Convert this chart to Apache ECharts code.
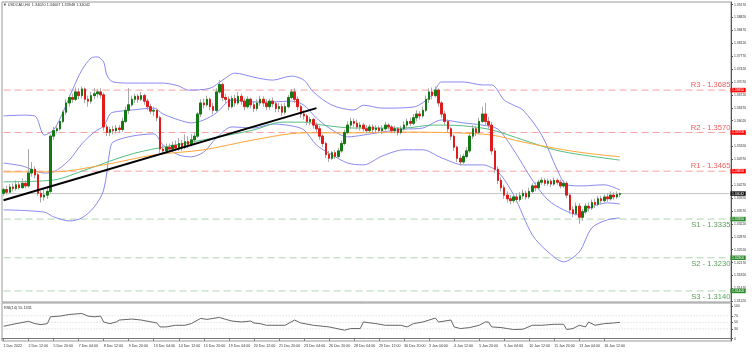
<!DOCTYPE html>
<html>
<head>
<meta charset="utf-8">
<script src="https://cdn.jsdelivr.net/npm/echarts@6/dist/echarts.min.js"></script>
<style>html,body{margin:0;padding:0;background:#fff}#chart{width:752px;height:352px}</style>
</head>
<body>
<div id="chart"></div>
<script>
// time labels, one every 8 H4 bars
var timeLabels = ['1 Dec 2022','2 Dec 12:00','5 Dec 20:00','7 Dec 04:00','8 Dec 12:00','9 Dec 20:00',
  '13 Dec 04:00','14 Dec 12:00','15 Dec 20:00','19 Dec 04:00','20 Dec 12:00','21 Dec 20:00','23 Dec 04:00',
  '26 Dec 20:00','28 Dec 04:00','29 Dec 12:00','30 Dec 20:00','3 Jan 04:00','4 Jan 12:00','5 Jan 20:00',
  '9 Jan 04:00','10 Jan 12:00','11 Jan 20:00','13 Jan 04:00','16 Jan 12:00'];
var slotCount = 233;

// [open, close, low, high]
var ohlc = [
[1.3405,1.3415,1.3398,1.3420],[1.3415,1.3408,1.3402,1.3425],[1.3408,1.3422,1.3405,1.3430],[1.3422,1.3418,1.3410,1.3432],
[1.3418,1.3428,1.3412,1.3440],[1.3428,1.3420,1.3415,1.3438],[1.3420,1.3432,1.3418,1.3445],[1.3432,1.3425,1.3418,1.3440],
[1.3425,1.3460,1.3420,1.3525],[1.3460,1.3470,1.3450,1.3490],[1.3470,1.3455,1.3445,1.3478],[1.3455,1.3405,1.3398,1.3460],
[1.3405,1.3395,1.3380,1.3412],[1.3395,1.3400,1.3385,1.3415],[1.3400,1.3410,1.3390,1.3420],[1.3410,1.3560,1.3405,1.3565],
[1.3560,1.3575,1.3550,1.3585],[1.3575,1.3580,1.3568,1.3590],[1.3580,1.3600,1.3575,1.3605],[1.3600,1.3625,1.3595,1.3630],
[1.3625,1.3650,1.3618,1.3660],[1.3650,1.3665,1.3640,1.3672],[1.3665,1.3660,1.3650,1.3675],[1.3660,1.3680,1.3655,1.3692],
[1.3680,1.3670,1.3660,1.3690],[1.3670,1.3688,1.3662,1.3695],[1.3688,1.3660,1.3650,1.3692],[1.3660,1.3655,1.3640,1.3670],
[1.3655,1.3670,1.3648,1.3680],[1.3670,1.3675,1.3660,1.3690],[1.3675,1.3680,1.3665,1.3688],[1.3680,1.3672,1.3662,1.3690],
[1.3672,1.3585,1.3575,1.3678],[1.3585,1.3570,1.3560,1.3592],[1.3570,1.3578,1.3560,1.3585],[1.3578,1.3575,1.3565,1.3588],
[1.3575,1.3582,1.3568,1.3590],[1.3582,1.3578,1.3568,1.3590],[1.3578,1.3600,1.3572,1.3610],[1.3600,1.3630,1.3595,1.3640],
[1.3630,1.3645,1.3620,1.3690],[1.3645,1.3660,1.3640,1.3670],[1.3660,1.3668,1.3650,1.3675],[1.3668,1.3660,1.3650,1.3675],
[1.3660,1.3670,1.3655,1.3680],[1.3670,1.3655,1.3645,1.3675],[1.3655,1.3640,1.3630,1.3662],[1.3640,1.3628,1.3620,1.3648],
[1.3628,1.3630,1.3615,1.3640],[1.3630,1.3610,1.3600,1.3635],[1.3610,1.3525,1.3515,1.3615],[1.3525,1.3520,1.3510,1.3535],
[1.3520,1.3530,1.3512,1.3540],[1.3530,1.3525,1.3515,1.3540],[1.3525,1.3535,1.3518,1.3545],[1.3535,1.3528,1.3520,1.3548],
[1.3528,1.3540,1.3520,1.3555],[1.3540,1.3530,1.3520,1.3550],[1.3530,1.3545,1.3525,1.3565],[1.3545,1.3538,1.3528,1.3560],
[1.3538,1.3550,1.3532,1.3565],[1.3550,1.3560,1.3540,1.3570],[1.3560,1.3620,1.3555,1.3625],[1.3620,1.3650,1.3612,1.3660],
[1.3650,1.3645,1.3635,1.3662],[1.3645,1.3660,1.3640,1.3670],[1.3660,1.3640,1.3630,1.3665],[1.3640,1.3630,1.3620,1.3650],
[1.3630,1.3680,1.3625,1.3690],[1.3680,1.3700,1.3675,1.3712],[1.3700,1.3665,1.3655,1.3705],[1.3665,1.3660,1.3650,1.3675],
[1.3660,1.3640,1.3630,1.3668],[1.3640,1.3662,1.3635,1.3670],[1.3662,1.3650,1.3640,1.3672],[1.3650,1.3668,1.3645,1.3680],
[1.3668,1.3655,1.3645,1.3675],[1.3655,1.3640,1.3630,1.3662],[1.3640,1.3660,1.3635,1.3668],[1.3660,1.3645,1.3635,1.3665],
[1.3645,1.3635,1.3625,1.3655],[1.3635,1.3650,1.3628,1.3660],[1.3650,1.3660,1.3642,1.3670],[1.3660,1.3650,1.3640,1.3668],
[1.3650,1.3640,1.3630,1.3660],[1.3640,1.3655,1.3632,1.3662],[1.3655,1.3648,1.3638,1.3665],[1.3648,1.3635,1.3625,1.3655],
[1.3635,1.3640,1.3625,1.3650],[1.3640,1.3625,1.3615,1.3648],[1.3625,1.3640,1.3618,1.3650],[1.3640,1.3665,1.3635,1.3672],
[1.3665,1.3680,1.3660,1.3688],[1.3680,1.3660,1.3650,1.3690],[1.3660,1.3640,1.3630,1.3668],[1.3640,1.3620,1.3610,1.3645],
[1.3620,1.3615,1.3605,1.3630],[1.3615,1.3600,1.3590,1.3620],[1.3600,1.3605,1.3590,1.3612],[1.3605,1.3590,1.3580,1.3610],
[1.3590,1.3580,1.3570,1.3598],[1.3580,1.3560,1.3550,1.3588],[1.3560,1.3540,1.3530,1.3565],[1.3540,1.3510,1.3500,1.3545],
[1.3510,1.3500,1.3490,1.3520],[1.3500,1.3515,1.3495,1.3520],[1.3515,1.3505,1.3498,1.3522],[1.3505,1.3520,1.3500,1.3528],
[1.3520,1.3540,1.3515,1.3548],[1.3540,1.3570,1.3535,1.3578],[1.3570,1.3590,1.3565,1.3600],[1.3590,1.3600,1.3580,1.3610],
[1.3600,1.3595,1.3585,1.3608],[1.3595,1.3585,1.3578,1.3605],[1.3585,1.3590,1.3575,1.3598],[1.3590,1.3580,1.3572,1.3595],
[1.3580,1.3575,1.3568,1.3590],[1.3575,1.3585,1.3570,1.3592],[1.3585,1.3578,1.3570,1.3592],[1.3578,1.3582,1.3570,1.3590],
[1.3582,1.3575,1.3568,1.3588],[1.3575,1.3580,1.3565,1.3590],[1.3580,1.3590,1.3575,1.3598],[1.3590,1.3585,1.3578,1.3595],
[1.3585,1.3575,1.3568,1.3590],[1.3575,1.3580,1.3568,1.3588],[1.3580,1.3570,1.3562,1.3585],[1.3570,1.3580,1.3565,1.3588],
[1.3580,1.3590,1.3575,1.3600],[1.3590,1.3600,1.3582,1.3608],[1.3600,1.3595,1.3588,1.3610],[1.3595,1.3610,1.3590,1.3620],
[1.3610,1.3620,1.3600,1.3630],[1.3620,1.3615,1.3605,1.3628],[1.3615,1.3630,1.3610,1.3640],[1.3630,1.3660,1.3625,1.3670],
[1.3660,1.3680,1.3650,1.3690],[1.3680,1.3670,1.3660,1.3692],[1.3670,1.3685,1.3665,1.3695],[1.3685,1.3650,1.3640,1.3690],
[1.3650,1.3620,1.3610,1.3655],[1.3620,1.3600,1.3590,1.3628],[1.3600,1.3580,1.3570,1.3605],[1.3580,1.3560,1.3550,1.3585],
[1.3560,1.3530,1.3520,1.3565],[1.3530,1.3500,1.3490,1.3535],[1.3500,1.3490,1.3480,1.3510],[1.3490,1.3505,1.3485,1.3512],
[1.3505,1.3520,1.3500,1.3530],[1.3520,1.3560,1.3515,1.3568],[1.3560,1.3580,1.3552,1.3590],[1.3580,1.3570,1.3560,1.3588],
[1.3570,1.3600,1.3565,1.3610],[1.3600,1.3620,1.3595,1.3640],[1.3620,1.3600,1.3590,1.3650],[1.3600,1.3590,1.3580,1.3612],
[1.3590,1.3520,1.3510,1.3598],[1.3520,1.3470,1.3460,1.3528],[1.3470,1.3440,1.3430,1.3478],[1.3440,1.3420,1.3410,1.3448],
[1.3420,1.3400,1.3390,1.3428],[1.3400,1.3390,1.3380,1.3410],[1.3390,1.3385,1.3375,1.3400],[1.3385,1.3395,1.3378,1.3402],
[1.3395,1.3388,1.3380,1.3405],[1.3388,1.3398,1.3382,1.3408],[1.3398,1.3405,1.3390,1.3415],[1.3405,1.3395,1.3388,1.3412],
[1.3395,1.3410,1.3390,1.3420],[1.3410,1.3425,1.3405,1.3432],[1.3425,1.3420,1.3410,1.3435],[1.3420,1.3435,1.3415,1.3442],
[1.3435,1.3440,1.3428,1.3448],[1.3440,1.3432,1.3425,1.3446],[1.3432,1.3438,1.3425,1.3445],[1.3438,1.3430,1.3422,1.3444],
[1.3430,1.3440,1.3425,1.3448],[1.3440,1.3435,1.3428,1.3446],[1.3435,1.3425,1.3418,1.3442],[1.3425,1.3432,1.3420,1.3440],
[1.3432,1.3400,1.3392,1.3438],[1.3400,1.3360,1.3350,1.3405],[1.3360,1.3350,1.3340,1.3370],[1.3350,1.3370,1.3345,1.3380],
[1.3370,1.3340,1.3322,1.3378],[1.3340,1.3355,1.3330,1.3362],[1.3355,1.3370,1.3348,1.3378],[1.3370,1.3365,1.3355,1.3380],
[1.3365,1.3380,1.3360,1.3388],[1.3380,1.3375,1.3365,1.3390],[1.3375,1.3390,1.3370,1.3398],[1.3390,1.3385,1.3375,1.3398],
[1.3385,1.3395,1.3380,1.3402],[1.3395,1.3390,1.3382,1.3405],[1.3390,1.3400,1.3385,1.3410],[1.3400,1.3395,1.3388,1.3408],
[1.3395,1.3402,1.3390,1.3410],[1.3402,1.3404,1.3395,1.3407]
];

// indicator lines: [bar index, value]
var bbUpper = [[0,1.3615],[6,1.3617],[10,1.3615],[13,1.3563],[16,1.3577],[19,1.3625],[22,1.3685],[25,1.3739],[28,1.3772],[30,1.3775],[32,1.3761],[33,1.3726],[35,1.3707],[41,1.3704],[51,1.3704],[56,1.3696],[59,1.3685],[66,1.3690],[70,1.3712],[74,1.3731],[80,1.3720],[86,1.3712],[92,1.3723],[96,1.3712],[99,1.3680],[105,1.3644],[112,1.3631],[115,1.3644],[121,1.3636],[131,1.3639],[137,1.3672],[140,1.3707],[147,1.3707],[153,1.3699],[156,1.3699],[160,1.3658],[163,1.3644],[166,1.3631],[172,1.3563],[177,1.3468],[180,1.3428],[185,1.3425],[192,1.3428],[197,1.3414]];
var bbMiddle = [[0,1.3487],[6,1.3479],[13,1.3460],[16,1.3463],[21,1.3495],[25,1.3539],[29,1.3571],[32,1.3588],[34,1.3620],[35,1.3625],[41,1.3631],[48,1.3636],[51,1.3620],[56,1.3604],[60,1.3596],[64,1.3604],[68,1.3623],[73,1.3658],[80,1.3653],[86,1.3653],[92,1.3655],[96,1.3644],[100,1.3609],[105,1.3577],[110,1.3558],[115,1.3563],[121,1.3571],[128,1.3579],[134,1.3582],[140,1.3604],[147,1.3596],[153,1.3590],[158,1.3579],[163,1.3523],[169,1.3441],[174,1.3387],[179,1.3360],[184,1.3346],[188,1.3368],[193,1.3379],[197,1.3376]];
var bbLower = [[0,1.3360],[13,1.3354],[16,1.3341],[21,1.3330],[25,1.3338],[29,1.3368],[32,1.3414],[34,1.3523],[35,1.3544],[41,1.3560],[48,1.3566],[51,1.3536],[56,1.3509],[60,1.3504],[64,1.3517],[68,1.3555],[73,1.3585],[80,1.3582],[86,1.3593],[92,1.3588],[96,1.3577],[100,1.3536],[105,1.3509],[110,1.3487],[115,1.3482],[121,1.3506],[128,1.3523],[134,1.3523],[140,1.3501],[147,1.3482],[153,1.3482],[158,1.3463],[163,1.3401],[169,1.3292],[174,1.3246],[179,1.3219],[184,1.3246],[188,1.3311],[193,1.3333],[197,1.3338]];
var maFast = [[0,1.3436],[16,1.3441],[26,1.3468],[42,1.3514],[64,1.3550],[80,1.3577],[89,1.3598],[96,1.3598],[102,1.3590],[112,1.3582],[128,1.3582],[137,1.3590],[147,1.3588],[156,1.3577],[166,1.3550],[176,1.3523],[185,1.3509],[197,1.3495]];
var maSlow = [[0,1.3463],[16,1.3463],[32,1.3482],[48,1.3509],[64,1.3523],[80,1.3550],[96,1.3569],[112,1.3569],[128,1.3571],[144,1.3569],[156,1.3563],[166,1.3544],[179,1.3523],[188,1.3512],[197,1.3504]];
var trendLine = [[0,1.3386],[100,1.3636]];
var rsi = [[0,38],[4,46],[8,53],[10,46],[12,43],[14,46],[15,67],[18,69],[21,74],[25,77],[27,69],[29,67],[31,69],[32,51],[34,46],[36,51],[37,57],[41,60],[44,57],[49,48],[50,36],[52,36],[55,41],[58,41],[60,46],[63,62],[65,59],[69,65],[71,59],[73,54],[76,51],[79,54],[80,48],[82,46],[84,41],[90,41],[93,57],[95,48],[99,41],[104,36],[109,26],[111,31],[114,31],[115,51],[119,46],[122,41],[127,41],[129,36],[131,46],[134,51],[136,57],[138,63],[139,51],[143,57],[144,36],[146,31],[149,34],[152,41],[154,51],[155,51],[156,36],[159,34],[161,31],[163,28],[166,29],[169,41],[172,41],[176,44],[179,44],[180,28],[182,31],[184,41],[186,36],[187,51],[189,41],[192,46],[195,48],[197,50]];

var resistance = [['R3', 1.3685], ['R2', 1.3570], ['R1', 1.3465]];
var support = [['S1', 1.3335], ['S2', 1.3230], ['S3', 1.3140]];
var lastPrice = 1.34042;
var priceTicks = [1.3112,1.3147,1.3182,1.3217,1.3252,1.3287,1.3322,1.3357,1.3392,1.3427,1.3462,1.3497,
  1.3532,1.3567,1.3602,1.3637,1.3672,1.3707,1.3742,1.3777,1.3812,1.3847,1.3882,1.3917];
var rsiTicks = [0, 30, 50, 70, 100];
var rsiGuides = [30, 50, 70];

var categories = [];
for (var i = 0; i < slotCount; i++) {
  categories.push(i % 8 === 0 && timeLabels[i / 8] ? timeLabels[i / 8] : '');
}
var bodies = ohlc.map(function (d) {
  return [d[0], d[1], Math.min(d[0], d[1]), Math.max(d[0], d[1])];
});

var FONT = 'Liberation Sans';
var last = slotCount - 1;

// horizontal level drawn as a 2-point line across the whole plot, price box at the axis
function levelSeries(name, v, lineColor, dash, boxColor) {
  return {
    name: name, type: 'line', xAxisIndex: 0, yAxisIndex: 0, symbol: 'none', silent: true, z: 2,
    data: [[0, v], [last, v]],
    lineStyle: { color: lineColor, width: 1, type: dash },
    endLabel: { show: true, formatter: v.toFixed(5), distance: 1, color: '#fff', backgroundColor: boxColor,
      fontSize: 3.4, fontFamily: FONT, padding: [1, 1.5, 0.5, 1.5] },
    labelLayout: { hideOverlap: false }
  };
}

var myChart = echarts.init(document.getElementById('chart'));
var thinLine = function (name, data, color) {
  return { name: name, type: 'line', data: data, xAxisIndex: 0, yAxisIndex: 0, symbol: 'none',
    smooth: 0.3, lineStyle: { color: color, width: 1 }, silent: true, z: 3 };
};

var series = [
  levelSeries('last', lastPrice, '#c4c4c4', 'solid', '#111')
];
resistance.forEach(function (l) {
  series.push(levelSeries(l[0], l[1], '#f7a0a0', [7, 4], '#ff0000'));
});
support.forEach(function (l) {
  series.push(levelSeries(l[0], l[1], '#b2d3b2', [7, 4], '#2c8a2c'));
});
rsiGuides.forEach(function (g) {
  series.push({ name: 'rsi' + g, type: 'line', xAxisIndex: 1, yAxisIndex: 1, symbol: 'none', silent: true,
    data: [[0, g], [last, g]], lineStyle: { color: '#cfcfcf', width: 1, type: [1, 2] } });
});
series = series.concat([
  { name: 'wick', type: 'candlestick', data: ohlc, xAxisIndex: 0, yAxisIndex: 0, barWidth: 2, z: 4,
    itemStyle: { color: '#a9a9a9', color0: '#a9a9a9', borderColor: '#a9a9a9', borderColor0: '#a9a9a9', borderWidth: 1 },
    silent: true },
  { name: 'body', type: 'candlestick', data: bodies, xAxisIndex: 0, yAxisIndex: 0, barWidth: 2, z: 5,
    itemStyle: { color: '#137a13', color0: '#e01b1b', borderColor: '#137a13', borderColor0: '#e01b1b', borderWidth: 1 },
    silent: true },
  thinLine('bbUpper', bbUpper, '#8a8af2'),
  thinLine('bbMiddle', bbMiddle, '#8a8af2'),
  thinLine('bbLower', bbLower, '#8a8af2'),
  thinLine('maFast', maFast, '#52bf82'),
  thinLine('maSlow', maSlow, '#ffa53a'),
  { name: 'trend', type: 'line', data: trendLine, xAxisIndex: 0, yAxisIndex: 0, symbol: 'none',
    lineStyle: { color: '#000', width: 2 }, z: 6, silent: true },
  { name: 'rsi', type: 'line', data: rsi, xAxisIndex: 1, yAxisIndex: 1, symbol: 'none',
    lineStyle: { color: '#666', width: 1 }, silent: true }
]);

option = {
  animation: false,
  backgroundColor: '#fff',
  graphic: [
    { type: 'text', left: 3, top: 3, style: { text: '\u25BC USDCAD,H4  1.34020 1.34067 1.33948 1.34042', fontSize: 3.8, fill: '#333', fontFamily: FONT } },
    { type: 'text', left: 4, top: 306, style: { text: 'RSI(14) 55.1331', fontSize: 3.8, fill: '#333', fontFamily: FONT } }
  ],
  grid: [
    { left: 2, right: 21, top: 2, height: 300, show: true, borderColor: '#999', borderWidth: 1 },
    { left: 2, right: 21, top: 303, height: 38, show: true, borderColor: '#999', borderWidth: 1 }
  ],
  xAxis: [
    { type: 'category', gridIndex: 0, data: categories, boundaryGap: true,
      axisLine: { show: false }, axisTick: { show: false }, axisLabel: { show: false }, splitLine: { show: false } },
    { type: 'category', gridIndex: 1, data: categories, boundaryGap: true,
      axisLine: { show: true, lineStyle: { color: '#777' } },
      axisTick: { show: true, length: 2, alignWithLabel: true, lineStyle: { color: '#777' },
        interval: function (idx, val) { return val !== ''; } },
      axisLabel: { show: true, align: 'left', margin: 3, fontSize: 3.6, color: '#333', fontFamily: FONT,
        interval: function (idx, val) { return val !== ''; } },
      splitLine: { show: false } }
  ],
  yAxis: [
    { type: 'value', gridIndex: 0, position: 'right', min: 1.3110, max: 1.3924,
      axisLine: { show: true, lineStyle: { color: '#555' } },
      axisTick: { show: true, length: 2, customValues: priceTicks, lineStyle: { color: '#555' } },
      axisLabel: { show: true, margin: 3, customValues: priceTicks, fontSize: 3.4, color: '#333', fontFamily: FONT,
        formatter: function (v) { return v.toFixed(5); } },
      splitLine: { show: false } },
    { type: 'value', gridIndex: 1, position: 'right', min: -7, max: 109,
      axisLine: { show: true, lineStyle: { color: '#555' } },
      axisTick: { show: true, length: 2, customValues: rsiTicks, lineStyle: { color: '#555' } },
      axisLabel: { show: true, margin: 3, customValues: rsiTicks, fontSize: 3.4, color: '#333', fontFamily: FONT },
      splitLine: { show: false } }
  ],
  series: series
};
myChart.setOption(option);

// level captions, placed with the chart's own scales
var rightEdge = myChart.convertToPixel({ xAxisIndex: 0 }, last) + 1;
var captions = [];
resistance.forEach(function (l) {
  captions.push({ type: 'text', id: 'cap' + l[0], x: rightEdge, y: myChart.convertToPixel({ yAxisIndex: 0 }, l[1]) - 1,
    z: 10, style: { text: l[0] + ' - ' + l[1].toFixed(4), fill: '#f25c5c', fontSize: 7.6, fontFamily: FONT,
      align: 'right', verticalAlign: 'bottom' } });
});
support.forEach(function (l) {
  captions.push({ type: 'text', id: 'cap' + l[0], x: rightEdge, y: myChart.convertToPixel({ yAxisIndex: 0 }, l[1]) + 2,
    z: 10, style: { text: l[0] + ' - ' + l[1].toFixed(4), fill: '#5a9e5a', fontSize: 7.6, fontFamily: FONT,
      align: 'right', verticalAlign: 'top' } });
});
myChart.setOption({ graphic: captions });
</script>
</body>
</html>
